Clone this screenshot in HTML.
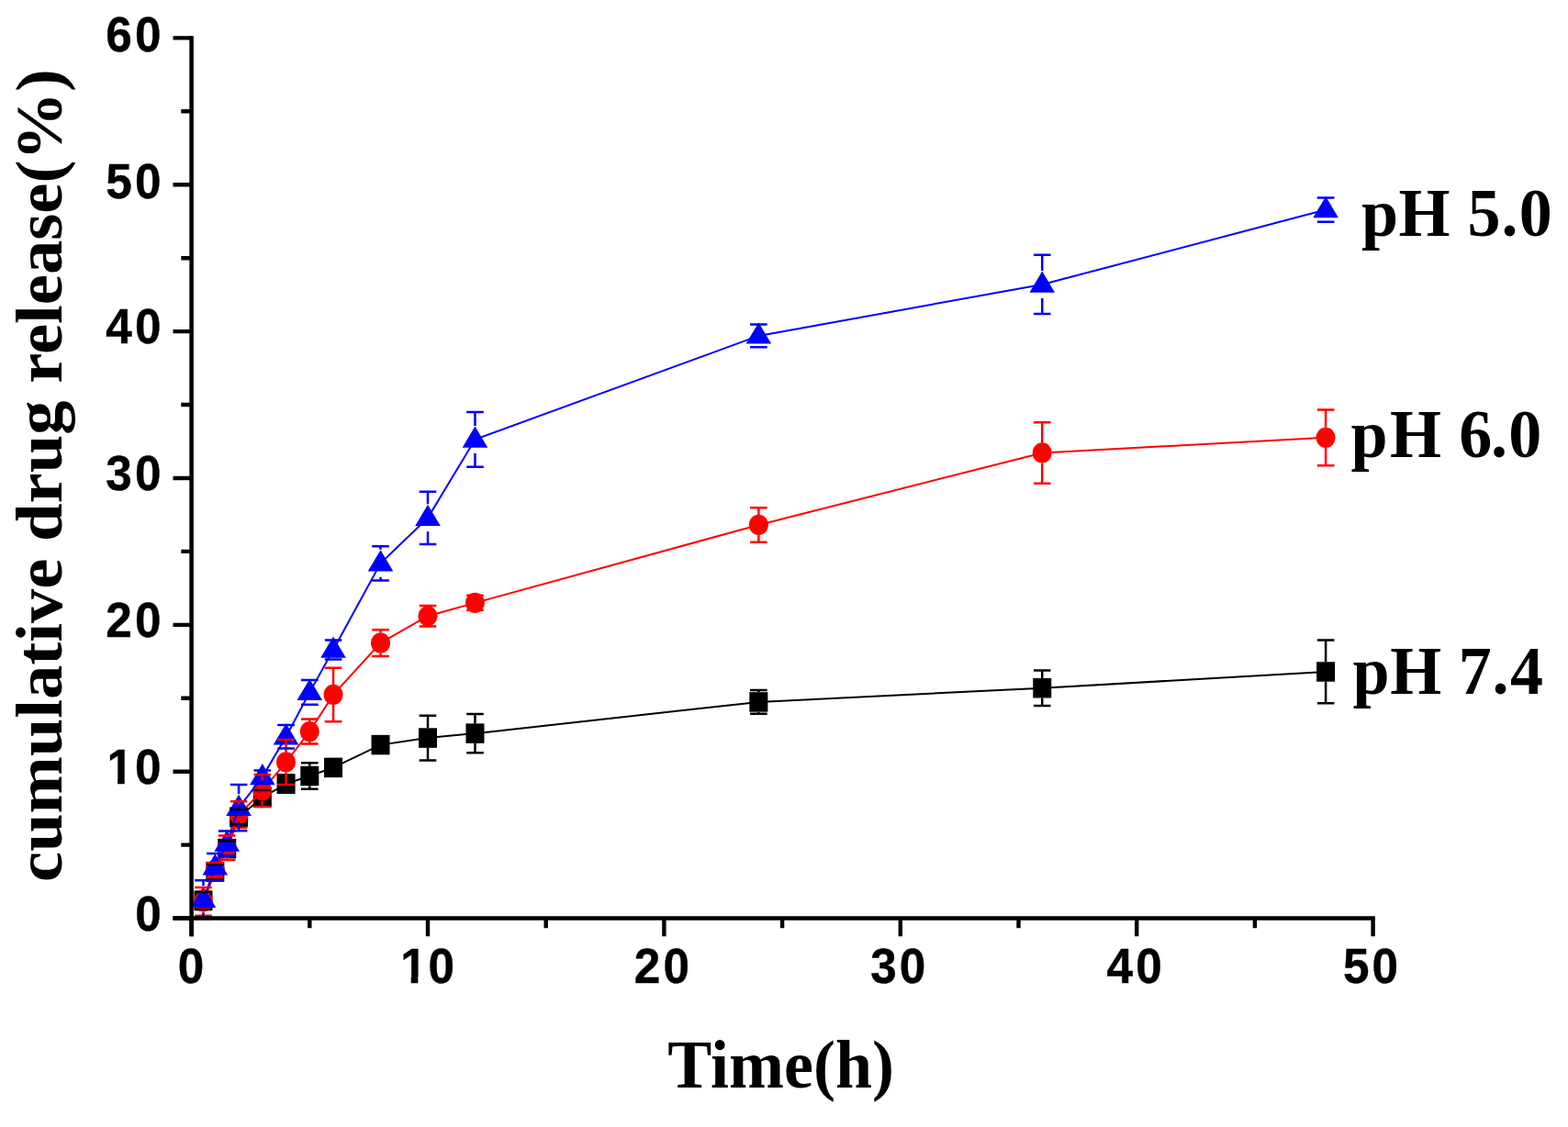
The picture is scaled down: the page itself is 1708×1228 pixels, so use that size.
<!DOCTYPE html>
<html><head><meta charset="utf-8"><title>cumulative drug release</title>
<style>
html,body{margin:0;padding:0;background:#fff;overflow:hidden;}
svg{display:block;}
.tk{font-family:"Liberation Sans",Arial,sans-serif;font-weight:bold;font-size:51.3px;fill:#000;stroke:#000;stroke-width:0.4px;stroke-linejoin:round;}
.tt{font-family:"Liberation Serif","Times New Roman",serif;font-weight:bold;font-size:72px;fill:#000;}
</style></head>
<body>
<svg width="1708" height="1228" viewBox="0 0 1708 1228">
<rect width="1708" height="1228" fill="#fff"/>
<g class="tk">
<text transform="translate(0 1013.55) scale(1 1.037)" x="147.3" y="0">0</text>
<text transform="translate(0 853.69) scale(1 1.037)" x="116.6 146.9" y="0">10</text>
<text transform="translate(0 693.83) scale(1 1.037)" x="115.3 146.9" y="0">20</text>
<text transform="translate(0 533.97) scale(1 1.037)" x="115.3 146.9" y="0">30</text>
<text transform="translate(0 374.11) scale(1 1.037)" x="115.3 146.9" y="0">40</text>
<text transform="translate(0 216.35) scale(1 1.037)" x="115.3 146.9" y="0">50</text>
<text transform="translate(0 56.49) scale(1 1.037)" x="115.3 146.9" y="0">60</text>
<text transform="translate(0 1071.1) scale(1 1.037)" x="193.7" y="0">0</text>
<text transform="translate(0 1071.1) scale(1 1.037)" x="436.2 466.6" y="0">10</text>
<text transform="translate(0 1071.1) scale(1 1.037)" x="690.8 722.4" y="0">20</text>
<text transform="translate(0 1071.1) scale(1 1.037)" x="948.2 979.8" y="0">30</text>
<text transform="translate(0 1071.1) scale(1 1.037)" x="1205.6 1237.2" y="0">40</text>
<text transform="translate(0 1071.1) scale(1 1.037)" x="1463 1494.6" y="0">50</text>
</g>
<rect x="116.9" y="847.09" width="11.2" height="8.5" fill="#fff"/>
<rect x="135.7" y="847.09" width="10" height="8.5" fill="#fff"/>
<rect x="436.5" y="1064.5" width="11.2" height="8.5" fill="#fff"/>
<rect x="455.3" y="1064.5" width="10" height="8.5" fill="#fff"/>
<polyline points="221.47,981.37 234.34,950.03 247.21,924.62 260.08,890.25 285.82,868.99 311.56,854.12 337.3,845.49 363.04,836.37 414.52,811.6 466,804.08 517.48,799.13 826.36,764.92 1135.24,749.73 1444.12,731.99" fill="none" stroke="#000" stroke-width="2"/>
<rect x="211.47" y="970.62" width="20" height="21.5" fill="#000"/>
<rect x="224.34" y="939.28" width="20" height="21.5" fill="#000"/>
<rect x="237.21" y="913.87" width="20" height="21.5" fill="#000"/>
<rect x="250.08" y="879.5" width="20" height="21.5" fill="#000"/>
<rect x="275.82" y="858.24" width="20" height="21.5" fill="#000"/>
<rect x="301.56" y="843.37" width="20" height="21.5" fill="#000"/>
<rect x="327.3" y="834.74" width="20" height="21.5" fill="#000"/>
<rect x="353.04" y="825.62" width="20" height="21.5" fill="#000"/>
<rect x="404.52" y="800.85" width="20" height="21.5" fill="#000"/>
<rect x="456" y="793.33" width="20" height="21.5" fill="#000"/>
<rect x="507.48" y="788.38" width="20" height="21.5" fill="#000"/>
<rect x="816.36" y="754.17" width="20" height="21.5" fill="#000"/>
<rect x="1125.24" y="738.98" width="20" height="21.5" fill="#000"/>
<rect x="1434.12" y="721.24" width="20" height="21.5" fill="#000"/>
<polyline points="221.47,982.41 234.34,947.96 247.21,923.82 260.08,887.69 285.82,861.47 311.56,830.46 337.3,797.05 363.04,756.92 414.52,700.65 466,671.24 517.48,656.85 826.36,571.97 1135.24,493.47 1444.12,476.85" fill="none" stroke="#ff0000" stroke-width="2"/>
<ellipse cx="221.47" cy="982.41" rx="10.5" ry="11.1" fill="#ff0000"/>
<ellipse cx="234.34" cy="947.96" rx="10.5" ry="11.1" fill="#ff0000"/>
<ellipse cx="247.21" cy="923.82" rx="10.5" ry="11.1" fill="#ff0000"/>
<ellipse cx="260.08" cy="887.69" rx="10.5" ry="11.1" fill="#ff0000"/>
<ellipse cx="285.82" cy="861.47" rx="10.5" ry="11.1" fill="#ff0000"/>
<ellipse cx="311.56" cy="830.46" rx="10.5" ry="11.1" fill="#ff0000"/>
<ellipse cx="337.3" cy="797.05" rx="10.5" ry="11.1" fill="#ff0000"/>
<ellipse cx="363.04" cy="756.92" rx="10.5" ry="11.1" fill="#ff0000"/>
<ellipse cx="414.52" cy="700.65" rx="10.5" ry="11.1" fill="#ff0000"/>
<ellipse cx="466" cy="671.24" rx="10.5" ry="11.1" fill="#ff0000"/>
<ellipse cx="517.48" cy="656.85" rx="10.5" ry="11.1" fill="#ff0000"/>
<ellipse cx="826.36" cy="571.97" rx="10.5" ry="11.1" fill="#ff0000"/>
<ellipse cx="1135.24" cy="493.47" rx="10.5" ry="11.1" fill="#ff0000"/>
<ellipse cx="1444.12" cy="476.85" rx="10.5" ry="11.1" fill="#ff0000"/>
<polyline points="221.47,980.25 234.34,944.76 247.21,919.02 260.08,880.18 285.82,846.6 311.56,802.8 337.3,754.37 363.04,708.01 414.52,613.85 466,564.29 517.48,478.93 826.36,365.91 1135.24,309.95 1444.12,228.59" fill="none" stroke="#0000ff" stroke-width="2"/>
<polygon points="221.47,965.75 235.27,988.95 207.67,988.95" fill="#0000ff"/>
<polygon points="234.34,930.26 248.14,953.46 220.54,953.46" fill="#0000ff"/>
<polygon points="247.21,904.52 261.01,927.72 233.41,927.72" fill="#0000ff"/>
<polygon points="260.08,865.68 273.88,888.88 246.28,888.88" fill="#0000ff"/>
<polygon points="285.82,832.1 299.62,855.3 272.02,855.3" fill="#0000ff"/>
<polygon points="311.56,788.3 325.36,811.5 297.76,811.5" fill="#0000ff"/>
<polygon points="337.3,739.87 351.1,763.07 323.5,763.07" fill="#0000ff"/>
<polygon points="363.04,693.51 376.84,716.71 349.24,716.71" fill="#0000ff"/>
<polygon points="414.52,599.35 428.32,622.55 400.72,622.55" fill="#0000ff"/>
<polygon points="466,549.79 479.8,572.99 452.2,572.99" fill="#0000ff"/>
<polygon points="517.48,464.43 531.28,487.63 503.68,487.63" fill="#0000ff"/>
<polygon points="826.36,351.41 840.16,374.61 812.56,374.61" fill="#0000ff"/>
<polygon points="1135.24,295.45 1149.04,318.65 1121.44,318.65" fill="#0000ff"/>
<polygon points="1444.12,214.09 1457.92,237.29 1430.32,237.29" fill="#0000ff"/>
<path d="M212.17 971.78H230.77M212.17 990.96H230.77" stroke="#000" stroke-width="2.5" fill="none"/>
<path d="M225.04 942.04H243.64M225.04 958.03H243.64" stroke="#000" stroke-width="2.5" fill="none"/>
<path d="M237.91 916.62H256.51M237.91 932.61H256.51" stroke="#000" stroke-width="2.5" fill="none"/>
<path d="M250.78 882.25H269.38M250.78 898.24H269.38" stroke="#000" stroke-width="2.5" fill="none"/>
<path d="M276.52 860.99H295.12M276.52 876.98H295.12" stroke="#000" stroke-width="2.5" fill="none"/>
<path d="M302.26 844.53H320.86M302.26 863.71H320.86" stroke="#000" stroke-width="2.5" fill="none"/>
<path d="M337.3 831.26V834.74M337.3 856.24V859.71M328 831.26H346.6M328 859.71H346.6" stroke="#000" stroke-width="2.5" fill="none"/>
<path d="M353.74 829.98H372.34M353.74 842.77H372.34" stroke="#000" stroke-width="2.5" fill="none"/>
<path d="M405.22 805.2H423.82M405.22 817.99H423.82" stroke="#000" stroke-width="2.5" fill="none"/>
<path d="M466 779.78V793.33M466 814.83V828.38M456.7 779.78H475.3M456.7 828.38H475.3" stroke="#000" stroke-width="2.5" fill="none"/>
<path d="M517.48 778.02V788.38M517.48 809.88V820.23M508.18 778.02H526.78M508.18 820.23H526.78" stroke="#000" stroke-width="2.5" fill="none"/>
<path d="M826.36 751.97V754.17M826.36 775.67V777.87M817.06 751.97H835.66M817.06 777.87H835.66" stroke="#000" stroke-width="2.5" fill="none"/>
<path d="M1135.24 730.55V738.98M1135.24 760.48V768.91M1125.94 730.55H1144.54M1125.94 768.91H1144.54" stroke="#000" stroke-width="2.5" fill="none"/>
<path d="M1444.12 697.62V721.24M1444.12 742.74V766.36M1434.82 697.62H1453.42M1434.82 766.36H1453.42" stroke="#000" stroke-width="2.5" fill="none"/>
<path d="M221.47 967.06V971.41M221.47 993.41V997.75M212.17 967.06H230.77M212.17 997.75H230.77" stroke="#ff0000" stroke-width="2.5" fill="none"/>
<path d="M225.04 939.96H243.64M225.04 955.95H243.64" stroke="#ff0000" stroke-width="2.5" fill="none"/>
<path d="M247.21 910.55V912.82M247.21 934.82V937.09M237.91 910.55H256.51M237.91 937.09H256.51" stroke="#ff0000" stroke-width="2.5" fill="none"/>
<path d="M260.08 873.3V876.69M260.08 898.69V902.08M250.78 873.3H269.38M250.78 902.08H269.38" stroke="#ff0000" stroke-width="2.5" fill="none"/>
<path d="M285.82 843.89V850.47M285.82 872.47V879.06M276.52 843.89H295.12M276.52 879.06H295.12" stroke="#ff0000" stroke-width="2.5" fill="none"/>
<path d="M311.56 806V819.46M311.56 841.46V854.92M302.26 806H320.86M302.26 854.92H320.86" stroke="#ff0000" stroke-width="2.5" fill="none"/>
<path d="M337.3 783.62V786.05M337.3 808.05V810.48M328 783.62H346.6M328 810.48H346.6" stroke="#ff0000" stroke-width="2.5" fill="none"/>
<path d="M363.04 727.67V745.92M363.04 767.92V786.18M353.74 727.67H372.34M353.74 786.18H372.34" stroke="#ff0000" stroke-width="2.5" fill="none"/>
<path d="M414.52 686.27V689.65M414.52 711.65V715.04M405.22 686.27H423.82M405.22 715.04H423.82" stroke="#ff0000" stroke-width="2.5" fill="none"/>
<path d="M466 660.05V660.24M466 682.24V682.43M456.7 660.05H475.3M456.7 682.43H475.3" stroke="#ff0000" stroke-width="2.5" fill="none"/>
<path d="M508.18 648.86H526.78M508.18 664.84H526.78" stroke="#ff0000" stroke-width="2.5" fill="none"/>
<path d="M826.36 553.26V560.97M826.36 582.97V590.67M817.06 553.26H835.66M817.06 590.67H835.66" stroke="#ff0000" stroke-width="2.5" fill="none"/>
<path d="M1135.24 460.22V482.47M1135.24 504.47V526.72M1125.94 460.22H1144.54M1125.94 526.72H1144.54" stroke="#ff0000" stroke-width="2.5" fill="none"/>
<path d="M1444.12 446.48V465.85M1444.12 487.85V507.22M1434.82 446.48H1453.42M1434.82 507.22H1453.42" stroke="#ff0000" stroke-width="2.5" fill="none"/>
<path d="M221.47 959.15V965.25M221.47 995.25V1001.35M212.17 959.15H230.77M212.17 1001.35H230.77" stroke="#0000ff" stroke-width="2.5" fill="none"/>
<path d="M225.04 930.05H243.64M225.04 959.47H243.64" stroke="#0000ff" stroke-width="2.5" fill="none"/>
<path d="M237.91 905.59H256.51M237.91 932.45H256.51" stroke="#0000ff" stroke-width="2.5" fill="none"/>
<path d="M260.08 855.08V865.18M260.08 895.18V905.27M250.78 855.08H269.38M250.78 905.27H269.38" stroke="#0000ff" stroke-width="2.5" fill="none"/>
<path d="M276.52 839.41H295.12M276.52 853.8H295.12" stroke="#0000ff" stroke-width="2.5" fill="none"/>
<path d="M302.26 790.01H320.86M302.26 815.59H320.86" stroke="#0000ff" stroke-width="2.5" fill="none"/>
<path d="M328 740.94H346.6M328 767.79H346.6" stroke="#0000ff" stroke-width="2.5" fill="none"/>
<path d="M353.74 697.46H372.34M353.74 718.56H372.34" stroke="#0000ff" stroke-width="2.5" fill="none"/>
<path d="M414.52 595.15V598.85M414.52 628.85V632.55M405.22 595.15H423.82M405.22 632.55H423.82" stroke="#0000ff" stroke-width="2.5" fill="none"/>
<path d="M466 535.68V549.29M466 579.29V592.91M456.7 535.68H475.3M456.7 592.91H475.3" stroke="#0000ff" stroke-width="2.5" fill="none"/>
<path d="M517.48 449.03V463.93M517.48 493.93V508.82M508.18 449.03H526.78M508.18 508.82H526.78" stroke="#0000ff" stroke-width="2.5" fill="none"/>
<path d="M817.06 353.6H835.66M817.06 378.22H835.66" stroke="#0000ff" stroke-width="2.5" fill="none"/>
<path d="M1135.24 277.82V294.95M1135.24 324.95V342.09M1125.94 277.82H1144.54M1125.94 342.09H1144.54" stroke="#0000ff" stroke-width="2.5" fill="none"/>
<path d="M1434.82 215.48H1453.42M1434.82 241.69H1453.42" stroke="#0000ff" stroke-width="2.5" fill="none"/>
<path d="M208.6 39.2V1020.3M188.5 1000.55H1497.85" stroke="#000" stroke-width="4.5" fill="none"/>
<path d="M188.5 1000.55H208.6M188.5 840.69H208.6M188.5 680.83H208.6M188.5 520.97H208.6M188.5 361.11H208.6M188.5 201.25H208.6M188.5 41.39H208.6M197.3 920.62H208.6M197.3 760.76H208.6M197.3 600.9H208.6M197.3 441.04H208.6M197.3 281.18H208.6M197.3 121.32H208.6M208.6 1000.55V1020.3M466 1000.55V1020.3M723.4 1000.55V1020.3M980.8 1000.55V1020.3M1238.2 1000.55V1020.3M1495.6 1000.55V1020.3M337.3 1000.55V1011.2M594.7 1000.55V1011.2M852.1 1000.55V1011.2M1109.5 1000.55V1011.2M1366.9 1000.55V1011.2" stroke="#000" stroke-width="4.4" fill="none"/>
<g class="tt">
<text transform="translate(1483.1 256.9) scale(1 1.037)" dx="0 0.45 0 1 0.95 1.25">pH 5.0</text>
<text transform="translate(1471.8 498.3) scale(1 1.037)" dx="-0.2 2.35 0 1.3 -1.4 1.3">pH 6.0</text>
<text transform="translate(1473.8 756.3) scale(1 1.037)" dx="-0.2 0.7 0 0.3 0.9 1.45">pH 7.4</text>
<text transform="translate(850.6 1184.7) scale(1 1.037)" text-anchor="middle">Time(h)</text>
<text transform="translate(67 518.1) rotate(-90) scale(1.037 1)" text-anchor="middle">cumulative drug release(%)</text>
</g>
</svg>
</body></html>
